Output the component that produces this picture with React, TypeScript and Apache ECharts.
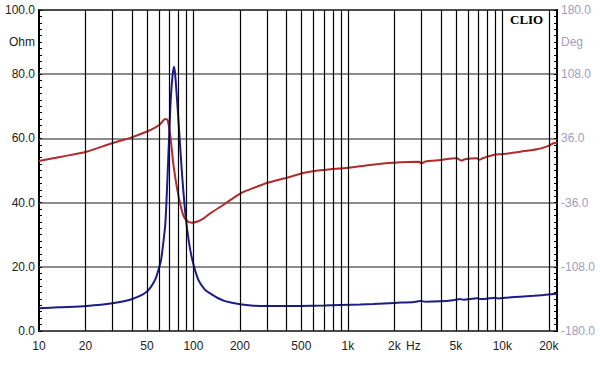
import React, { useEffect, useRef } from "react";
import * as echarts from "echarts";

// Impedance magnitude (left axis, Ohm)
const impFreq = [10, 13.4, 20.4, 29.9, 39.8, 49.8, 56.4, 59.3, 61.7, 64.1, 65.8, 68.1, 70.9, 73.2, 75.0, 76.6, 80.2, 84.3, 88.6, 93.1, 98.4, 107.6, 118.9, 128.6, 144.8, 160, 201, 245, 300, 400, 491, 700, 891, 1200, 1465, 2000, 2700, 2940, 3200, 3957, 4800, 5327, 5600, 6900, 7200, 7925, 9000, 9400, 11000, 13010, 16000, 18500, 21380, 22600];
const impOhm = [7.07, 7.38, 7.79, 8.63, 9.88, 12.2, 15.9, 19.0, 22.1, 28.3, 33.6, 49.1, 69.9, 79.5, 82.3, 78.5, 64.7, 49.1, 36.7, 28.3, 22.1, 15.9, 12.8, 11.7, 10.2, 9.3, 8.32, 7.88, 7.75, 7.75, 7.79, 7.95, 8.10, 8.25, 8.41, 8.75, 9.05, 9.35, 9.1, 9.25, 9.6, 9.95, 9.75, 10.2, 9.95, 10.06, 10.35, 10.15, 10.45, 10.7, 10.95, 11.2, 11.5, 11.6];

// Impedance phase (right axis, degrees)
const phaseFreq = [10, 14, 20.3, 29.7, 39.7, 49.6, 56, 61.1, 65.7, 68.0, 70.9, 74.5, 80.2, 86.6, 92.1, 98.0, 105, 116.5, 128.5, 156.6, 202, 233, 302, 402, 541, 695, 1013, 1389, 1972, 2890, 2980, 3170, 3980, 5050, 5440, 5800, 6840, 7080, 7520, 8760, 10160, 13100, 16760, 19500, 21460, 22600];
const phaseDeg = [10.7, 15.5, 21.1, 30.5, 37.2, 43.5, 47.8, 52.2, 57.8, 56.6, 37.9, 4.3, -29.4, -51.8, -57.2, -58.5, -57.5, -53.6, -48.0, -38.4, -25.6, -21.1, -13.7, -8.1, -2.0, 0.6, 3.1, 6.2, 8.7, 9.9, 7.8, 10.1, 11.8, 13.7, 11.2, 12.9, 13.7, 12.0, 14.0, 17.4, 18.5, 21.1, 23.8, 27.0, 30.5, 31.2];

// Grid lines and tick labels
const gridFreqs = [20, 30, 40, 50, 60, 70, 80, 90, 100, 200, 300, 400, 500, 600, 700, 800, 900, 1000, 2000, 3000, 4000, 5000, 6000, 7000, 8000, 9000, 10000, 20000];
const xLabelFreqs = [10, 20, 50, 100, 200, 500, 1000, 2000, 5000, 10000, 20000];
const ohmLabels = [0, 20, 40, 60, 80, 90, 100];
const degLabels = [-180, -108, -36, 36, 108, 144, 180];

const FONT = "'Liberation Sans', Arial, sans-serif";

export default function App() {
  const ref = useRef<HTMLDivElement>(null);
  useEffect(() => {
    if (!ref.current) return;
    const chart = echarts.init(ref.current, undefined, { renderer: "svg" });
    const impData = impFreq.map((f, i) => [f, impOhm[i]]);
    const phData = phaseFreq.map((f, i) => [f, phaseDeg[i]]);
    chart.setOption({
      animation: false,
      backgroundColor: "#ffffff",
      textStyle: { fontFamily: FONT },
      grid: {
        left: 39,
        right: 43,
        top: 10,
        bottom: 36,
        show: true,
        borderColor: "#000",
        borderWidth: 2,
        backgroundColor: "transparent",
        containLabel: false,
        outerBoundsMode: "none",
      },
      xAxis: {
        type: "log",
        logBase: 10,
        min: 10,
        max: 22600,
        axisLine: { show: false },
        axisTick: { show: false },
        splitLine: { show: false },
        minorSplitLine: { show: false },
        axisLabel: {
          customValues: xLabelFreqs,
          formatter: (v: number) => (v >= 1000 ? `${Math.round(v / 1000)}k` : `${Math.round(v)}`),
          color: "#222",
          fontSize: 12,
          fontFamily: FONT,
          margin: 9,
        },
      },
      yAxis: [
        {
          type: "value",
          min: 0,
          max: 100,
          interval: 20,
          position: "left",
          axisLine: { show: false },
          axisTick: { show: true, inside: true, length: 3, lineStyle: { color: "#000" } },
          minorTick: { show: true, splitNumber: 10, length: 3, lineStyle: { color: "#000" } },
          splitLine: { show: true, lineStyle: { color: "#666", width: 1.5 } },
          axisLabel: {
            customValues: ohmLabels,
            formatter: (v: number) => (v === 90 ? "Ohm" : v.toFixed(1)),
            color: "#222",
            fontSize: 12,
            fontFamily: FONT,
            margin: 4,
          },
        },
        {
          type: "value",
          min: -180,
          max: 180,
          interval: 36,
          position: "right",
          axisLine: { show: false },
          axisTick: { show: true, inside: true, length: 3, lineStyle: { color: "#000" } },
          minorTick: { show: true, splitNumber: 5, length: 3, lineStyle: { color: "#000" } },
          splitLine: { show: false },
          axisLabel: {
            customValues: degLabels,
            formatter: (v: number) => (v === 144 ? "Deg" : v.toFixed(1)),
            color: "#9e9ec0",
            fontSize: 12,
            fontFamily: FONT,
            margin: 4,
          },
        },
      ],
      graphic: [
        {
          type: "text",
          left: 510,
          top: 13,
          style: { text: "CLIO", font: "bold 13px 'Liberation Serif', 'Times New Roman', serif", fill: "#000" },
        },
        {
          type: "text",
          left: 406,
          top: 340,
          style: { text: "Hz", font: `12px ${FONT}`, fill: "#222" },
        },
      ],
      series: [
        {
          type: "line",
          data: [],
          z: 1,
          silent: true,
          markLine: {
            silent: true,
            symbol: ["none", "none"],
            label: { show: false },
            lineStyle: { color: "#000", type: "solid", width: 1.2 },
            emphasis: { disabled: true },
            data: gridFreqs.map((f) => ({ xAxis: f })),
          },
        },
        {
          type: "line",
          name: "Phase",
          yAxisIndex: 1,
          data: phData,
          showSymbol: false,
          smooth: 0.3,
          z: 3,
          lineStyle: { color: "#b22a2a", width: 2 },
        },
        {
          type: "line",
          name: "Impedance",
          yAxisIndex: 0,
          data: impData,
          showSymbol: false,
          smooth: 0.3,
          z: 4,
          lineStyle: { color: "#1c1c8a", width: 2 },
        },
      ],
    });
    return () => chart.dispose();
  }, []);
  return <div ref={ref} style={{ position: "fixed", left: 0, top: 0, width: 600, height: 367 }} />;
}
